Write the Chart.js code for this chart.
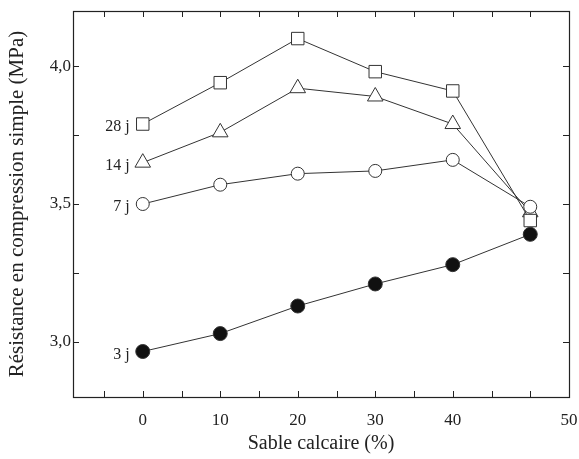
<!DOCTYPE html>
<html>
<head>
<meta charset="utf-8">
<script src="https://cdn.jsdelivr.net/npm/chart.js@4/dist/chart.umd.min.js"></script>
<style>
  html, body { margin: 0; padding: 0; background: #fff; }
  #wrap { width: 579px; height: 459px; }
</style>
</head>
<body>
<div id="wrap"><canvas id="chart" width="579" height="459"></canvas></div>
<script>
// sable calcaire (%)
const sable = [0, 10, 20, 30, 40, 50];
// résistance (MPa) par âge
const r28j = [3.79, 3.94, 4.10, 3.98, 3.91, 3.44];
const r14j = [3.65, 3.76, 3.92, 3.89, 3.79, 3.47];
const r7j = [3.50, 3.57, 3.61, 3.62, 3.66, 3.49];
const r3j = [2.965, 3.03, 3.13, 3.21, 3.28, 3.39];
const seriesNames = ['28 j', '14 j', '7 j', '3 j'];

const xTicks = [-5, 0, 5, 10, 15, 20, 25, 30, 35, 40, 45, 50, 55];
// the figure prints "50" at the right frame edge
const xTickText = { 0: '0', 10: '10', 20: '20', 30: '30', 40: '40', 55: '50' };
const yTicks = [3.0, 3.25, 3.5, 3.75, 4.0];
const yTickText = { 3: '3,0', 3.5: '3,5', 4: '4,0' };

const serif = "'Liberation Serif', 'DejaVu Serif', serif";
const ink = '#222';

function pts(ys) {
  return sable.map((x, i) => ({ x: x, y: ys[i] }));
}

function series(label, ys, style, radius, fill, order) {
  return {
    label: label,
    data: pts(ys),
    borderColor: '#333',
    borderWidth: 1,
    pointStyle: style,
    pointRadius: radius,
    pointBorderWidth: 1,
    pointBorderColor: '#333',
    pointBackgroundColor: fill,
    tension: 0,
    order: order
  };
}

// inward tick marks on all four sides + frame
const framePlugin = {
  id: 'frame',
  afterDatasetsDraw(chart) {
    const { ctx, chartArea: a, scales } = chart;
    ctx.save();
    ctx.strokeStyle = ink;
    ctx.lineWidth = 1;
    ctx.beginPath();
    xTicks.forEach(v => {
      const px = Math.round(scales.x.getPixelForValue(v)) + 0.5;
      if (px <= a.left + 1 || px >= a.right - 1) return;
      ctx.moveTo(px, a.bottom); ctx.lineTo(px, a.bottom - 6);
      ctx.moveTo(px, a.top); ctx.lineTo(px, a.top + 6);
    });
    yTicks.forEach(v => {
      const py = Math.round(scales.y.getPixelForValue(v)) + 0.5;
      ctx.moveTo(a.left, py); ctx.lineTo(a.left + 6, py);
      ctx.moveTo(a.right, py); ctx.lineTo(a.right - 6, py);
    });
    ctx.stroke();
    ctx.lineWidth = 1.2;
    ctx.strokeRect(Math.round(a.left) + 0.5, Math.round(a.top) + 0.5,
      Math.round(a.right - a.left), Math.round(a.bottom - a.top));
    ctx.restore();
  }
};

// "28 j", "14 j" ... next to the first point of each series
const seriesLabelPlugin = {
  id: 'seriesLabels',
  afterDatasetsDraw(chart) {
    const { ctx, scales } = chart;
    const firsts = [r28j[0], r14j[0], r7j[0], r3j[0]];
    ctx.save();
    ctx.fillStyle = ink;
    ctx.font = '16px ' + serif;
    ctx.textAlign = 'right';
    ctx.textBaseline = 'middle';
    seriesNames.forEach((name, i) => {
      const px = scales.x.getPixelForValue(sable[0]) - 13;
      const py = scales.y.getPixelForValue(firsts[i]) + 3;
      ctx.fillText(name, px, py);
    });
    ctx.restore();
  }
};

new Chart(document.getElementById('chart'), {
  type: 'line',
  data: {
    datasets: [
      series(seriesNames[0], r28j, 'rect', 8.8, '#fff', 3),
      series(seriesNames[1], r14j, 'triangle', 9, '#fff', 4),
      series(seriesNames[2], r7j, 'circle', 6.5, '#fff', 1),
      series(seriesNames[3], r3j, 'circle', 7, '#111', 2)
    ]
  },
  options: {
    responsive: false,
    animation: false,
    layout: { padding: { top: 11, right: 9, left: 0, bottom: 0 } },
    plugins: {
      legend: { display: false },
      tooltip: { enabled: false }
    },
    scales: {
      x: {
        type: 'linear',
        min: -9,
        max: 55,
        afterBuildTicks: s => { s.ticks = xTicks.map(v => ({ value: v })); },
        afterFit: s => { s.height = 62; s.paddingLeft = 0; s.paddingRight = 0; },
        grid: { display: false, drawTicks: false },
        border: { display: false },
        ticks: {
          autoSkip: false,
          maxRotation: 0,
          padding: 13,
          color: ink,
          font: { family: serif, size: 17 },
          callback: v => (xTickText[v] !== undefined ? xTickText[v] : '')
        },
        title: {
          display: true,
          text: 'Sable calcaire (%)',
          color: ink,
          font: { family: serif, size: 20 },
          padding: { top: 0, bottom: 3 }
        }
      },
      y: {
        min: 2.8,
        max: 4.2,
        afterBuildTicks: s => { s.ticks = yTicks.map(v => ({ value: v })); },
        afterFit: s => { s.width = 73; s.paddingTop = 0; s.paddingBottom = 0; },
        grid: { display: false, drawTicks: false },
        border: { display: false },
        ticks: {
          autoSkip: false,
          padding: 2,
          color: ink,
          font: { family: serif, size: 17 },
          callback: v => (yTickText[v] !== undefined ? yTickText[v] : '')
        },
        title: {
          display: true,
          text: 'Résistance en compression simple (MPa)',
          color: ink,
          font: { family: serif, size: 21 },
          padding: { top: 5, bottom: 0 }
        }
      }
    }
  },
  plugins: [framePlugin, seriesLabelPlugin]
});
</script>
</body>
</html>
